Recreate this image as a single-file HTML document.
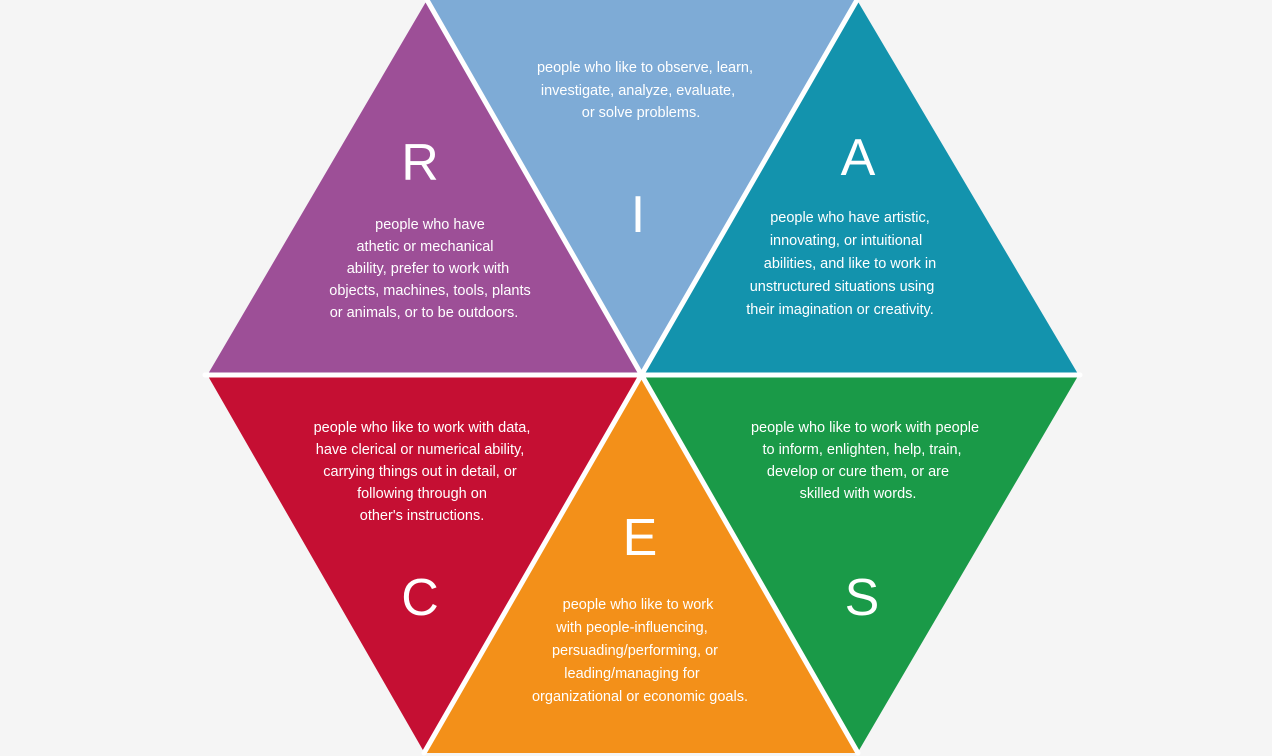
<!DOCTYPE html>
<html><head><style>
html,body{margin:0;padding:0;background:#f5f5f5;}
svg{display:block;}
text{font-family:"Liberation Sans",sans-serif;fill:#fff;}
.t{font-size:14.5px;text-anchor:middle;}
.L{font-size:52px;text-anchor:middle;}
</style></head><body>
<svg width="1272" height="756" viewBox="0 0 1272 756">
<rect width="1272" height="756" fill="#f5f5f5"/>
<polygon points="427,0 208,374 641,374" fill="#9d4f97"/>
<polygon points="427,0 857,0 641,374" fill="#7eabd6"/>
<polygon points="857,0 641,374 1078,374" fill="#1393ad"/>
<polygon points="208,376 641,376 424,752" fill="#c50f33"/>
<polygon points="641,376 424,753 858,753" fill="#f39019"/>
<polygon points="641,376 1078,376 858,752" fill="#1a9a48"/>
<g stroke="#fff" stroke-width="5" stroke-linecap="round">
<line x1="427" y1="0" x2="858" y2="753"/>
<line x1="857" y1="0" x2="424" y2="753"/>
<line x1="205" y1="375" x2="1080" y2="375"/>
</g>
<text class="L" x="420" y="180">R</text>
<text class="L" x="638" y="232">I</text>
<text class="L" x="858" y="175">A</text>
<text class="L" x="420" y="615">C</text>
<text class="L" x="640" y="555">E</text>
<text class="L" x="862" y="615">S</text>
<g class="t">
<text x="645" y="72">people who like to observe, learn,</text>
<text x="638" y="95">investigate, analyze, evaluate,</text>
<text x="641" y="117">or solve problems.</text>
<text x="430" y="229">people who have</text>
<text x="425" y="251">athetic or mechanical</text>
<text x="428" y="273">ability, prefer to work with</text>
<text x="430" y="295">objects, machines, tools, plants</text>
<text x="424" y="317">or animals, or to be outdoors.</text>
<text x="850" y="222">people who have artistic,</text>
<text x="846" y="245">innovating, or intuitional</text>
<text x="850" y="268">abilities, and like to work in</text>
<text x="842" y="291">unstructured situations using</text>
<text x="840" y="314">their imagination or creativity.</text>
<text x="422" y="432">people who like to work with data,</text>
<text x="420" y="454">have clerical or numerical ability,</text>
<text x="420" y="476">carrying things out in detail, or</text>
<text x="422" y="498">following through on</text>
<text x="422" y="520">other's instructions.</text>
<text x="865" y="432">people who like to work with people</text>
<text x="862" y="454">to inform, enlighten, help, train,</text>
<text x="858" y="476">develop or cure them, or are</text>
<text x="858" y="498">skilled with words.</text>
<text x="638" y="609">people who like to work</text>
<text x="632" y="632">with people-influencing,</text>
<text x="635" y="655">persuading/performing, or</text>
<text x="632" y="678">leading/managing for</text>
<text x="640" y="701">organizational or economic goals.</text>
</g>
</svg>
</body></html>
